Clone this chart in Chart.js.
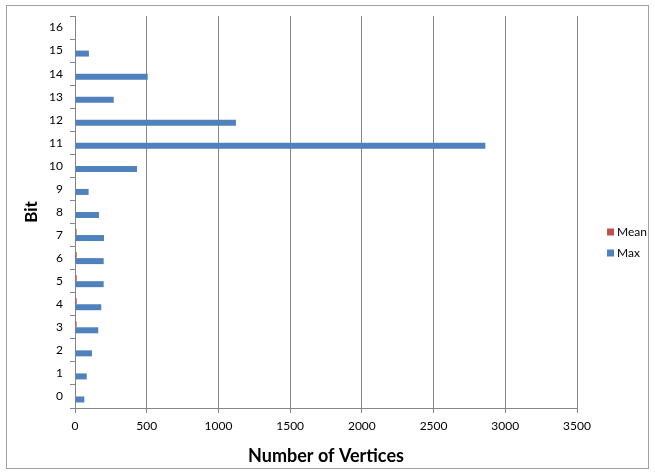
<!DOCTYPE html>
<html>
<head>
<meta charset="utf-8">
<script src="https://cdn.jsdelivr.net/npm/chart.js@4/dist/chart.umd.min.js"></script>
<style>
  html, body { margin: 0; padding: 0; background: #fff; }
  #wrap { width: 655px; height: 476px; }
</style>
</head>
<body>
<div id="wrap"><canvas id="c" width="655" height="476"></canvas></div>
<script>
// Bit positions 0..16
const bits = ['0','1','2','3','4','5','6','7','8','9','10','11','12','13','14','15','16'];
// Mean number of vertices per bit
const meanVertices = [2, 2, 5, 11, 12, 12, 12, 11, 5, 2, 2, 2, 2, 2, 2, 2, null];
// Max number of vertices per bit
const maxVertices = [65, 82, 118, 162, 183, 200, 200, 202, 167, 95, 432, 2861, 1122, 270, 507, 97, null];
// Value axis ticks
const xTickMin = 0, xTickMax = 3500, xTickStep = 500;

const GRID = '#878787';
const FONT = 'Lato, "Liberation Sans", sans-serif';

// Outer frame of the chart
const framePlugin = {
  id: 'frame',
  beforeDraw(chart) {
    const ctx = chart.ctx;
    ctx.save();
    ctx.fillStyle = '#ffffff';
    ctx.fillRect(0, 0, chart.width, chart.height);
    ctx.strokeStyle = '#a0a0a0';
    ctx.lineWidth = 1;
    ctx.strokeRect(6.5, 5.5, 642, 463);
    ctx.restore();
  }
};

// Legend at the right side, listed Mean then Max
const sideLegend = {
  id: 'sideLegend',
  afterDraw(chart) {
    const ctx = chart.ctx;
    ctx.save();
    ctx.font = '12px ' + FONT;
    ctx.textBaseline = 'middle';
    ctx.textAlign = 'left';
    chart.data.datasets.forEach((ds, i) => {
      const cy = 232 + i * 21;
      ctx.fillStyle = ds.backgroundColor;
      ctx.fillRect(607, cy - 3.5, 7, 7);
      ctx.fillStyle = '#000';
      ctx.fillText(ds.label, 617, cy);
    });
    ctx.restore();
  }
};

new Chart(document.getElementById('c'), {
  type: 'bar',
  data: {
    labels: bits,
    datasets: [
      { label: 'Mean', data: meanVertices, backgroundColor: '#c0504d', borderWidth: 0 },
      { label: 'Max', data: maxVertices, backgroundColor: '#4f81bd', borderWidth: 0 }
    ]
  },
  options: {
    indexAxis: 'y',
    responsive: false,
    animation: false,
    devicePixelRatio: 1,
    categoryPercentage: 0.52,
    barPercentage: 1,
    layout: { padding: { left: 0, right: 78, top: 16, bottom: 0 } },
    plugins: {
      legend: { display: false },
      tooltip: { enabled: false }
    },
    scales: {
      x: {
        type: 'linear',
        min: xTickMin,
        max: xTickMax,
        afterFit(scale) { scale.height = 68; },
        ticks: {
          stepSize: xTickStep,
          color: '#000',
          padding: 6,
          maxRotation: 0,
          font: { family: FONT, size: 12 },
          callback: (v) => String(v)
        },
        grid: { color: GRID, lineWidth: 1, tickLength: 5, tickColor: GRID },
        border: { color: GRID, width: 1 },
        title: {
          display: true,
          text: 'Number of Vertices',
          color: '#000',
          font: { family: FONT, size: 18, weight: 'bold' },
          padding: { top: 0, bottom: 9 }
        }
      },
      y: {
        reverse: true,
        afterFit(scale) { scale.width = 75; },
        ticks: {
          color: '#000',
          padding: 7,
          font: { family: FONT, size: 12 }
        },
        grid: { drawOnChartArea: false, tickLength: 5, color: GRID, tickColor: GRID, offset: true },
        border: { color: GRID, width: 1 },
        title: {
          display: true,
          text: 'Bit',
          color: '#000',
          font: { family: FONT, size: 17, weight: 'bold' },
          padding: { top: 21, bottom: 0 }
        }
      }
    }
  },
  plugins: [framePlugin, sideLegend]
});
</script>
</body>
</html>
